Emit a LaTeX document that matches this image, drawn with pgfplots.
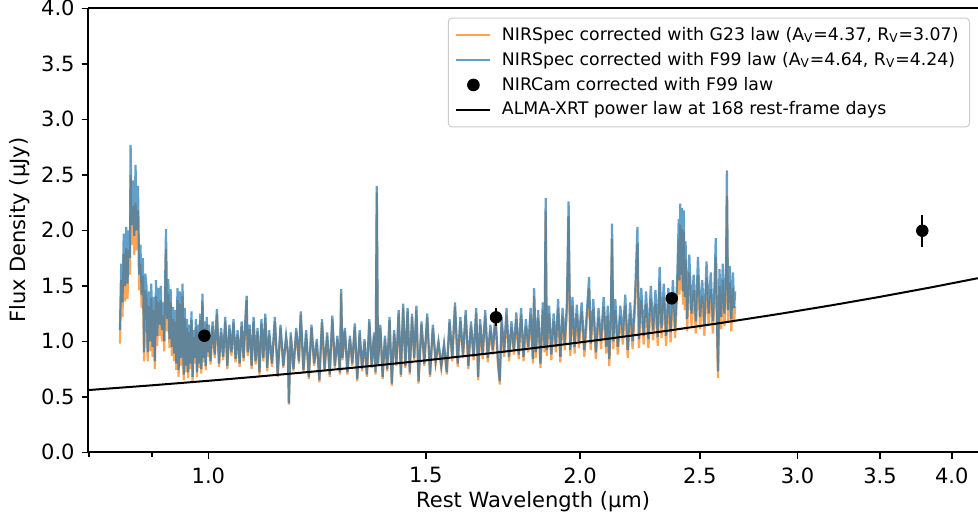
\documentclass[border=0pt]{standalone}
\usepackage{fontspec}
\setmainfont{DejaVu Sans}
\usepackage{pgfplots}
\usepackage{pgfplotstable}
\pgfplotsset{compat=1.18}
\definecolor{mplblue}{RGB}{31,119,180}
\definecolor{mplorange}{RGB}{255,127,14}

\pgfplotstableread{
lam b o
0.848 1.10 0.98
0.850 1.70 1.55
0.852 1.35 1.22
0.854 1.97 1.79
0.856 1.50 1.36
0.858 2.03 1.84
0.860 1.52 1.38
0.862 2.00 1.82
0.864 1.75 1.60
0.865 2.77 2.50
0.867 2.05 1.87
0.869 2.45 2.22
0.871 1.95 1.78
0.873 2.59 2.25
0.875 2.00 1.82
0.877 2.40 2.18
0.879 1.60 1.46
0.881 1.87 1.70
0.883 1.42 1.30
0.885 1.75 1.59
0.887 0.90 0.82
0.889 1.61 1.46
0.891 1.50 1.37
0.893 0.90 0.82
0.895 1.45 1.32
0.897 1.00 0.91
0.899 1.52 1.39
0.901 0.95 0.86
0.903 1.40 1.28
0.905 0.82 0.75
0.907 1.55 1.41
0.909 1.05 0.96
0.911 1.48 1.35
0.913 1.15 1.05
0.915 1.50 1.37
0.917 1.10 1.00
0.919 1.35 1.23
0.921 1.00 0.91
0.924 2.01 1.83
0.926 1.20 1.09
0.928 1.56 1.43
0.930 1.02 0.94
0.932 1.47 1.35
0.934 0.95 0.87
0.936 1.31 1.20
0.938 0.89 0.82
0.940 1.28 1.18
0.942 0.80 0.74
0.944 1.48 1.37
0.946 0.74 0.68
0.948 1.45 1.34
0.950 0.85 0.78
0.953 1.52 1.41
0.955 0.70 0.65
0.957 1.30 1.21
0.959 0.78 0.72
0.961 1.20 1.12
0.963 0.72 0.67
0.965 1.15 1.08
0.967 0.80 0.75
0.969 1.27 1.19
0.971 0.68 0.64
0.973 1.10 1.04
0.975 0.85 0.80
0.977 1.20 1.13
0.979 0.72 0.68
0.981 1.15 1.09
0.983 0.80 0.76
0.985 1.25 1.19
0.987 0.75 0.71
0.989 1.43 1.36
0.991 0.85 0.81
0.993 1.18 1.12
0.995 0.78 0.74
0.997 1.22 1.16
0.999 0.90 0.86
1.001 1.15 1.10
1.004 0.82 0.79
1.008 1.18 1.14
1.012 0.88 0.85
1.016 1.29 1.25
1.020 0.80 0.77
1.024 1.12 1.08
1.028 0.86 0.83
1.032 1.22 1.18
1.036 0.78 0.75
1.040 1.15 1.11
1.044 0.90 0.87
1.048 1.20 1.16
1.052 0.84 0.81
1.056 1.10 1.06
1.060 0.80 0.77
1.064 1.18 1.14
1.068 0.85 0.82
1.072 1.25 1.21
1.074 1.41 1.37
1.076 0.90 0.87
1.080 1.15 1.11
1.084 0.78 0.75
1.088 1.22 1.18
1.092 0.82 0.79
1.096 1.12 1.08
1.100 0.72 0.69
1.104 1.20 1.16
1.108 0.85 0.82
1.112 1.25 1.21
1.116 0.76 0.73
1.120 1.10 1.06
1.126 0.80 0.77
1.132 1.22 1.18
1.138 0.70 0.68
1.144 1.15 1.12
1.150 0.78 0.76
1.156 1.05 1.02
1.160 0.90 0.87
1.162 0.44 0.43
1.166 1.08 1.05
1.172 0.75 0.73
1.178 1.12 1.09
1.184 0.82 0.80
1.188 1.27 1.24
1.194 0.74 0.72
1.200 1.10 1.07
1.206 0.68 0.66
1.212 1.15 1.12
1.218 0.80 0.78
1.224 1.02 0.99
1.230 0.65 0.63
1.236 1.20 1.17
1.242 0.75 0.73
1.248 1.08 1.05
1.254 0.70 0.68
1.260 1.23 1.20
1.266 0.78 0.76
1.272 1.05 1.02
1.278 0.72 0.70
1.281 1.47 1.43
1.284 0.85 0.83
1.290 1.12 1.09
1.296 0.72 0.70
1.302 1.05 1.02
1.308 0.80 0.78
1.314 1.16 1.13
1.320 0.66 0.64
1.326 1.10 1.07
1.332 0.75 0.73
1.338 1.02 0.99
1.344 0.70 0.68
1.350 1.20 1.17
1.356 0.78 0.76
1.362 1.08 1.05
1.366 0.72 0.70
1.369 2.40 2.34
1.372 0.80 0.78
1.378 1.15 1.12
1.384 0.68 0.66
1.390 1.05 1.02
1.396 0.75 0.73
1.402 1.22 1.19
1.408 0.62 0.60
1.414 1.10 1.07
1.420 0.80 0.78
1.426 1.28 1.25
1.432 0.70 0.68
1.438 1.34 1.30
1.444 0.78 0.76
1.450 1.30 1.27
1.456 0.72 0.70
1.462 1.25 1.22
1.468 0.85 0.83
1.474 1.32 1.28
1.480 0.64 0.62
1.488 1.18 1.15
1.496 0.80 0.78
1.504 1.25 1.22
1.512 0.70 0.68
1.520 1.15 1.12
1.528 0.82 0.80
1.536 1.00 0.97
1.544 0.78 0.76
1.552 0.98 0.95
1.560 0.72 0.70
1.568 1.20 1.17
1.576 0.85 0.82
1.584 1.35 1.31
1.592 0.80 0.77
1.600 1.22 1.18
1.608 0.88 0.85
1.616 1.28 1.24
1.624 0.78 0.75
1.632 1.18 1.14
1.640 0.86 0.83
1.648 1.30 1.26
1.654 0.68 0.65
1.660 1.20 1.15
1.668 0.88 0.84
1.676 1.28 1.23
1.684 0.85 0.81
1.692 1.15 1.10
1.700 0.92 0.88
1.708 1.25 1.20
1.716 0.84 0.80
1.722 0.64 0.61
1.728 1.22 1.17
1.736 0.90 0.86
1.744 1.30 1.24
1.752 0.86 0.82
1.760 1.18 1.13
1.768 0.92 0.88
1.776 1.26 1.20
1.784 0.88 0.84
1.792 1.30 1.24
1.800 0.86 0.82
1.808 1.20 1.14
1.816 0.95 0.90
1.824 1.30 1.24
1.832 0.84 0.80
1.836 1.48 1.41
1.842 0.90 0.85
1.850 1.28 1.21
1.858 0.80 0.76
1.866 1.35 1.28
1.872 0.95 0.90
1.876 2.29 2.17
1.880 0.92 0.87
1.888 1.32 1.25
1.896 0.88 0.83
1.904 1.25 1.18
1.912 0.95 0.90
1.920 1.38 1.30
1.928 0.86 0.81
1.936 1.30 1.23
1.944 0.98 0.92
1.952 1.35 1.27
1.958 2.26 2.13
1.964 0.92 0.87
1.972 1.40 1.32
1.980 0.95 0.89
1.988 1.33 1.25
1.996 1.00 0.94
2.006 1.35 1.27
2.016 0.92 0.86
2.026 1.28 1.20
2.034 1.58 1.48
2.040 0.98 0.92
2.050 1.38 1.29
2.060 0.90 0.84
2.070 1.30 1.22
2.080 1.00 0.93
2.090 1.40 1.31
2.100 0.95 0.89
2.106 1.32 1.23
2.112 0.84 0.78
2.118 1.20 1.12
2.123 2.06 1.92
2.128 1.00 0.93
2.136 1.38 1.28
2.146 0.95 0.88
2.156 1.32 1.23
2.166 1.05 0.97
2.176 1.42 1.32
2.186 0.92 0.85
2.196 1.35 1.25
2.206 1.00 0.93
2.216 1.40 1.30
2.226 2.03 1.88
2.232 1.02 0.94
2.242 1.48 1.37
2.252 1.05 0.97
2.262 1.45 1.34
2.272 1.02 0.94
2.282 1.50 1.38
2.292 1.10 1.01
2.302 1.46 1.34
2.312 1.04 0.96
2.320 1.67 1.54
2.328 1.12 1.03
2.338 1.52 1.40
2.348 1.05 0.96
2.358 1.48 1.36
2.368 1.08 0.99
2.378 1.55 1.42
2.388 1.12 1.03
2.398 1.60 1.47
2.404 2.10 1.92
2.408 1.55 1.42
2.411 2.24 2.05
2.415 1.60 1.46
2.419 2.20 2.01
2.423 1.45 1.33
2.427 2.18 1.99
2.431 1.40 1.28
2.435 1.90 1.74
2.442 1.20 1.09
2.452 1.78 1.62
2.462 1.25 1.14
2.472 1.60 1.46
2.482 1.18 1.07
2.492 1.76 1.60
2.502 1.22 1.11
2.512 1.55 1.41
2.522 1.15 1.05
2.532 1.72 1.57
2.542 1.25 1.14
2.552 1.62 1.47
2.562 1.18 1.07
2.570 1.50 1.37
2.576 1.93 1.76
2.582 1.20 1.09
2.587 0.73 0.67
2.594 1.65 1.50
2.602 1.22 1.11
2.610 1.70 1.55
2.618 1.25 1.14
2.626 1.62 1.47
2.630 2.54 2.31
2.636 1.28 1.17
2.644 1.68 1.53
2.652 1.20 1.09
2.660 1.62 1.48
2.666 1.30 1.18
2.671 1.45 1.32
}\spec

\pgfplotstableread{
lam f e
0.9926 1.050 0.030
1.710 1.216 0.080
2.373 1.387 0.030
3.787 1.996 0.143
}\nircam

\pgfplotstableread{
lam f
0.80 0.5610
0.90 0.6035
1.00 0.6443
1.10 0.6835
1.20 0.7213
1.35 0.7760
1.50 0.8284
1.70 0.8952
1.90 0.9591
2.10 1.0206
2.35 1.0942
2.60 1.1651
2.90 1.2467
3.20 1.3251
3.50 1.4008
3.85 1.4860
4.20 1.5684
}\plaw

\begin{document}
\begin{tikzpicture}
\useasboundingbox (-44.15pt,-31.35pt) rectangle (444.85pt,226.15pt);
\begin{axis}[
  at={(0pt,0pt)}, anchor=south west,
  scale only axis, width=444.85pt, height=222pt,
  xmode=log, xmin=0.7995, xmax=4.201, ymin=0, ymax=4,
  axis x line*=box, axis y line*=left,
  tick align=outside, tick pos=left,
  xtick={1,1.5,2,2.5,3,3.5,4},
  xticklabels={1.0,1.5,2.0,2.5,3.0,3.5,4.0},
  minor xtick={0.8,0.9},
  ytick={0,0.5,1,1.5,2,2.5,3,3.5,4},
  yticklabel style={/pgf/number format/.cd, fixed, fixed zerofill, precision=1},
  /pgf/number format/assume math mode=true,
  major tick length=3.35pt, minor tick length=2.15pt,
  every tick/.style={black, line width=0.8pt},
  axis line style={line width=0.9pt},
  tick label style={font=\fontsize{10.5}{12}\selectfont},
  xticklabel style={yshift=-0.8pt},
  label style={font=\fontsize{10.5}{12}\selectfont},
  xlabel={Rest Wavelength (µm)},
  xlabel style={at={(axis description cs:0.5,-0.1245)}, anchor=base},
  ylabel={Flux Density (µJy)},
  ylabel style={at={(axis description cs:-0.0768,0.5)}, anchor=center},
  legend cell align=left,
  legend style={at={(1,1)}, anchor=north east, xshift=-4pt, yshift=-4.6pt,
    draw=black!20, line width=0.5pt, rounded corners=2pt, fill=white,
    font=\fontsize{8.65}{10}\selectfont, row sep=0.4pt, column sep=3.2pt,
    inner xsep=3.5pt, inner ysep=2.5pt},
]
\addplot[mplorange, opacity=0.7, line width=1.1pt, no markers] table[x=lam, y=o] {\spec};
\addlegendentry{NIRSpec corrected with G23 law (A\textsubscript{V}=4.37, R\textsubscript{V}=3.07)}
\addplot[mplblue, opacity=0.7, line width=1.1pt, no markers] table[x=lam, y=b] {\spec};
\addlegendentry{NIRSpec corrected with F99 law (A\textsubscript{V}=4.64, R\textsubscript{V}=4.24)}
\addplot[black, only marks, mark=*, mark size=2.9pt,
  error bars/.cd, y dir=both, y explicit, error mark=none,
  error bar style={line width=1pt, black}]
  table[x=lam, y=f, y error=e] {\nircam};
\addlegendentry{NIRCam corrected with F99 law}
\addplot[black, line width=1pt, no markers] table[x=lam, y=f] {\plaw};
\addlegendentry{ALMA-XRT power law at 168 rest-frame days}
\end{axis}
\end{tikzpicture}
\end{document}
